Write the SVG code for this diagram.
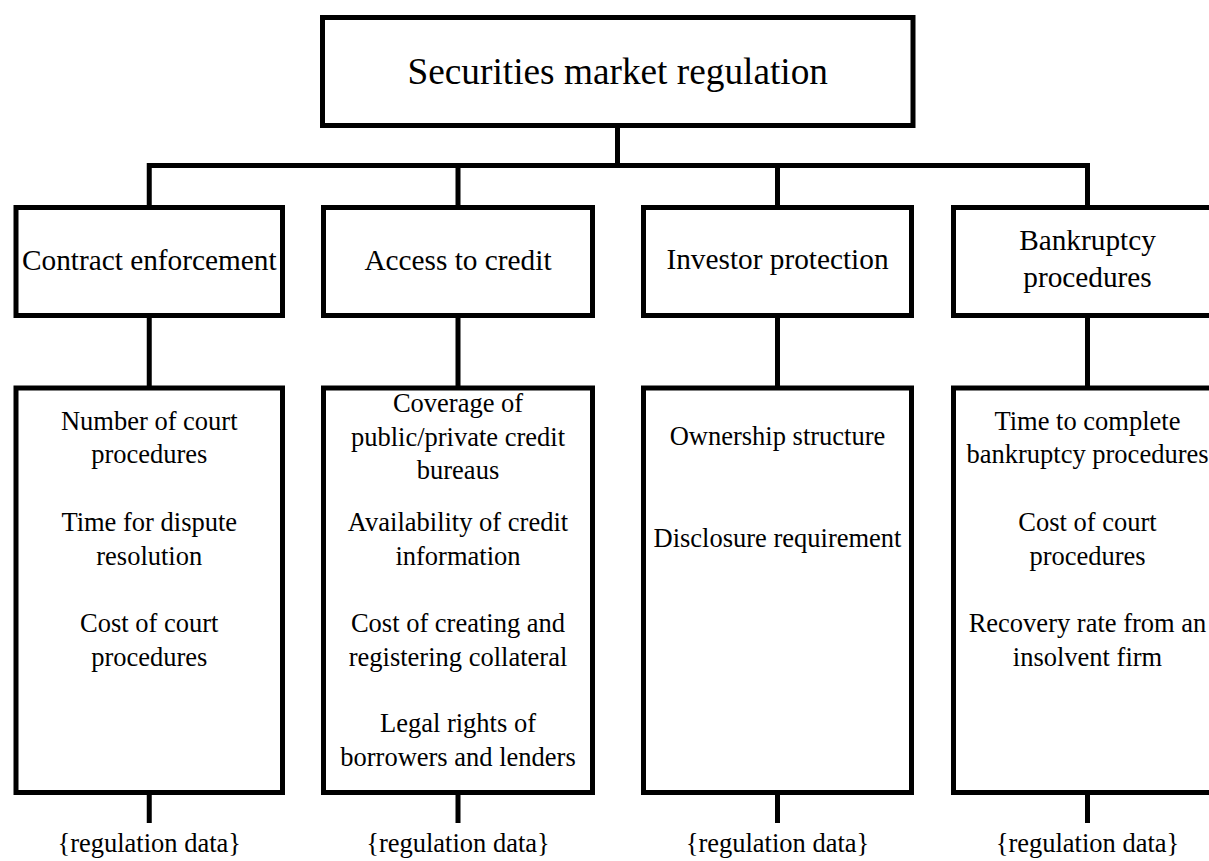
<svg xmlns="http://www.w3.org/2000/svg" width="1209" height="861" viewBox="0 0 1209 861">
<style>
.box{fill:#fff;stroke:#000;stroke-width:5}
.con{fill:none;stroke:#000;stroke-width:5}
text{font-family:"Liberation Serif","Times New Roman",serif;fill:#000;text-anchor:middle}
.t0{font-size:37.3px}
.t1{font-size:29.3px}
.t2{font-size:26.5px}
</style>
<rect width="1209" height="861" fill="#fff"/>
<g id="connectors">
<path class="con" d="M617.5 125.5V165.5"/>
<path class="con" d="M149.25 207.5V165.5H1087.5V207.5"/>
<path class="con" d="M458 165.5V207.5M777.5 165.5V207.5"/>
<path class="con" d="M149.25 315.5V388M458 315.5V388M777.5 315.5V388M1087.5 315.5V388"/>
<path class="con" d="M149.25 792.5V823M458 792.5V823M777.5 792.5V823M1087.5 792.5V823"/>
</g>
<g id="root">
<rect class="box" x="322.5" y="17.5" width="590.5" height="108"/>
<text class="t0" x="617.75" y="84">Securities market regulation</text>
</g>
<g id="contract">
<rect class="box" x="16" y="207.5" width="266.5" height="108"/>
<text class="t1" x="149.25" y="270">Contract enforcement</text>
</g>
<g id="access">
<rect class="box" x="323.5" y="207.5" width="269" height="108"/>
<text class="t1" x="458" y="270">Access to credit</text>
</g>
<g id="investor">
<rect class="box" x="643.5" y="207.5" width="268" height="108"/>
<text class="t1" x="777.5" y="269">Investor protection</text>
</g>
<g id="bankruptcy">
<rect class="box" x="953.5" y="207.5" width="268" height="108"/>
<text class="t1" x="1087.5" y="250">Bankruptcy</text>
<text class="t1" x="1087.5" y="287">procedures</text>
</g>
<g id="contract-items">
<rect class="box" x="16" y="388" width="266.5" height="404.5"/>
<text class="t2" x="149.25" y="429.5">Number of court</text>
<text class="t2" x="149.25" y="463.3">procedures</text>
<text class="t2" x="149.25" y="530.7">Time for dispute</text>
<text class="t2" x="149.25" y="564.5">resolution</text>
<text class="t2" x="149.25" y="632.3">Cost of court</text>
<text class="t2" x="149.25" y="666">procedures</text>
</g>
<g id="access-items">
<rect class="box" x="323.5" y="388" width="269" height="404.5"/>
<text class="t2" x="458" y="411.7">Coverage of</text>
<text class="t2" x="458" y="445.5">public/private credit</text>
<text class="t2" x="458" y="479.3">bureaus</text>
<text class="t2" x="458" y="530.7">Availability of credit</text>
<text class="t2" x="458" y="564.5">information</text>
<text class="t2" x="458" y="632.3">Cost of creating and</text>
<text class="t2" x="458" y="666">registering collateral</text>
<text class="t2" x="458" y="731.7">Legal rights of</text>
<text class="t2" x="458" y="765.5">borrowers and lenders</text>
</g>
<g id="investor-items">
<rect class="box" x="643.5" y="388" width="268" height="404.5"/>
<text class="t2" x="777.5" y="445">Ownership structure</text>
<text class="t2" x="777.5" y="546.7">Disclosure requirement</text>
</g>
<g id="bankruptcy-items">
<rect class="box" x="953.5" y="388" width="268" height="404.5"/>
<text class="t2" x="1087.5" y="429.5">Time to complete</text>
<text class="t2" x="1087.5" y="463.3">bankruptcy procedures</text>
<text class="t2" x="1087.5" y="530.7">Cost of court</text>
<text class="t2" x="1087.5" y="564.5">procedures</text>
<text class="t2" x="1087.5" y="632.3">Recovery rate from an</text>
<text class="t2" x="1087.5" y="666">insolvent firm</text>
</g>
<g id="data-labels">
<text class="t2" x="149.25" y="852">{regulation data}</text>
<text class="t2" x="458" y="852">{regulation data}</text>
<text class="t2" x="777.5" y="852">{regulation data}</text>
<text class="t2" x="1087.5" y="852">{regulation data}</text>
</g>
</svg>
